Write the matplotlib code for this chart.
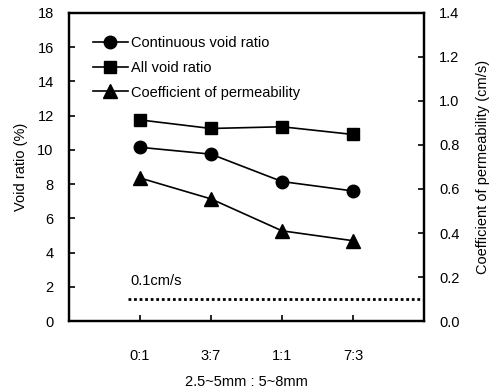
import numpy as np
import matplotlib.pyplot as plt

plt.rcParams['font.family'] = ['Liberation Sans', 'DejaVu Sans']

# data
ratios = ['0:1', '3:7', '1:1', '7:3']
continuous_void = [10.15, 9.75, 8.15, 7.6]
all_void = [11.75, 11.25, 11.35, 10.9]
permeability = [0.65, 0.555, 0.41, 0.365]
ref_perm = 0.1

x = np.arange(len(ratios))

fig = plt.figure(figsize=(4.93, 3.92), dpi=100)
ax = fig.add_axes([0.140, 0.181, 0.720, 0.786])
ax2 = ax.twinx()

l1, = ax.plot(x, continuous_void, color='black', marker='o', markersize=9, lw=1.2,
              label='Continuous void ratio')
l2, = ax.plot(x, all_void, color='black', marker='s', markersize=9, lw=1.2,
              label='All void ratio')
l3, = ax2.plot(x, permeability, color='black', marker='^', markersize=10, lw=1.2,
               label='Coefficient of permeability')
ax2.plot([-0.17, 4.0], [ref_perm, ref_perm], color='black', ls=(0, (1, 1)), lw=2)
ax2.text(-0.14, ref_perm + 0.05, '0.1cm/s', fontsize=10.5, ha='left', va='bottom')

ax.set_xlim(-1, 4)
ax.set_ylim(0, 18)
ax.set_yticks(np.arange(0, 19, 2))
ax2.set_ylim(0, 1.4)
ax2.set_yticks(np.arange(0, 1.41, 0.2))
ax2.set_yticklabels([f'{v:.1f}' for v in np.arange(0, 1.41, 0.2)])
ax.set_xticks(x)
ax.set_xticklabels(ratios)

for a in (ax, ax2):
    a.tick_params(direction='in', length=4, width=1.2, labelsize=10.5, pad=11)
    for s in a.spines.values():
        s.set_linewidth(1.6)
ax.tick_params(axis='x', pad=20)

ax.set_ylabel('Void ratio (%)', fontsize=10.5, labelpad=7)
ax2.set_ylabel('Coefficient of permeability (cm/s)', fontsize=10.5, labelpad=12)
ax.set_xlabel('2.5~5mm : 5~8mm', fontsize=10.5, labelpad=9)

ax.legend(handles=[l1, l2, l3], loc='upper left', frameon=False, fontsize=10.5,
          bbox_to_anchor=(0.05, 0.945), handlelength=2.4, handletextpad=0.2,
          labelspacing=0.75, borderaxespad=0)

fig.savefig('out.png', dpi=100)
